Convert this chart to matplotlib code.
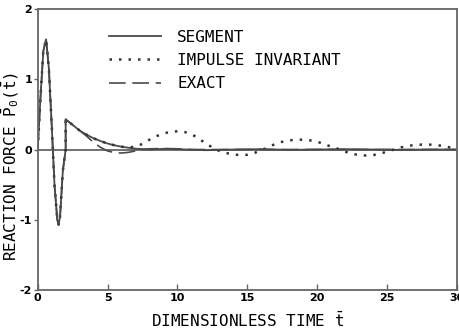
import numpy as np
import matplotlib
matplotlib.use("Agg")
import matplotlib.pyplot as plt

plt.rcParams['font.family'] = ['DejaVu Sans Mono', 'DejaVu Sans']
plt.rcParams['mathtext.fontset'] = 'custom'
plt.rcParams['mathtext.rm'] = 'DejaVu Sans Mono'
plt.rcParams['mathtext.it'] = 'DejaVu Sans Mono'

# data
t_seg = [0, 0.2, 0.4, 0.6, 0.8, 1.0, 1.2, 1.4, 1.5, 1.6, 1.8, 2.0, 2.0, 2.5, 3.0,
         3.5, 4.0, 4.5, 5.0, 5.5, 6.0, 6.5, 7.0, 8, 9, 10, 12, 14, 16, 18, 20,
         22, 24, 26, 28, 30]
p_seg = [0, 0.75, 1.40, 1.57, 1.15, 0.35, -0.50, -1.00, -1.07, -0.95, -0.30, 0.0,
         0.43, 0.35, 0.27, 0.21, 0.16, 0.12, 0.085, 0.06, 0.04, 0.025, 0.012,
         0.0, 0.01, 0.005, -0.01, 0.0, 0.005, -0.005, 0.0, 0.005, 0.0, -0.005,
         0.0, 0.0]

t_exact = [0, 0.2, 0.4, 0.6, 0.8, 1.0, 1.2, 1.4, 1.5, 1.6, 1.8, 2.0, 2.0, 2.5, 3.0,
           3.5, 4.0, 4.5, 5.0, 5.5, 6.0, 6.5, 7.0, 7.5, 8, 9, 10, 11, 12, 15, 20,
           25, 30]
p_exact = [0, 0.75, 1.40, 1.57, 1.15, 0.35, -0.50, -1.00, -1.07, -0.95, -0.30, 0.0,
           0.43, 0.35, 0.27, 0.19, 0.10, 0.03, -0.02, -0.045, -0.05, -0.04, -0.02,
           0.0, 0.01, 0.015, 0.01, 0.0, 0.0, 0.0, 0.0, 0.0, 0.0]

t_imp = [0, 0.2, 0.4, 0.6, 0.8, 1.0, 1.2, 1.4, 1.5, 1.6, 1.8, 2.0, 2.0, 2.5, 3.0,
         3.5, 4.0, 4.5, 5.0, 5.5, 6.0, 6.5, 7.0, 7.5, 8, 8.5, 9, 9.5, 10, 10.5,
         11, 11.5, 12, 12.5, 13, 13.5, 14, 14.5, 15, 15.5, 16, 16.5, 17, 17.5,
         18, 18.5, 19, 19.5, 20, 20.5, 21, 21.5, 22, 22.5, 23, 23.5, 24, 24.5,
         25, 25.5, 26, 26.5, 27, 27.5, 28, 28.5, 29, 29.5, 30]
p_imp = [0, 0.75, 1.40, 1.57, 1.15, 0.35, -0.50, -1.00, -1.07, -0.95, -0.30, 0.0,
         0.43, 0.35, 0.27, 0.21, 0.16, 0.12, 0.085, 0.06, 0.04, 0.03, 0.04, 0.08,
         0.14, 0.19, 0.23, 0.25, 0.26, 0.25, 0.22, 0.16, 0.09, 0.03, -0.02,
         -0.05, -0.07, -0.08, -0.075, -0.05, -0.01, 0.03, 0.08, 0.11, 0.13, 0.14,
         0.14, 0.13, 0.11, 0.08, 0.04, 0.01, -0.03, -0.06, -0.08, -0.085, -0.08,
         -0.06, -0.03, 0.0, 0.03, 0.05, 0.065, 0.07, 0.07, 0.065, 0.05, 0.03, 0.0]

labels = ["SEGMENT", "IMPULSE INVARIANT", "EXACT"]
xticks = [0, 5, 10, 15, 20, 25, 30]
yticks = [-2, -1, 0, 1, 2]

grey = '#4a4a4a'

fig = plt.figure(figsize=(4.6, 3.33), dpi=100)
ax = fig.add_axes([0.082, 0.129, 0.911, 0.844])

ax.axhline(0, color='#666666', lw=1.3, zorder=1)
ax.plot(t_seg, p_seg, color=grey, lw=1.3, label=labels[0])
ax.plot(t_imp, p_imp, color='#333333', lw=1.8, ls=(0, (1, 2.8)), label=labels[1])
ax.plot(t_exact, p_exact, color=grey, lw=1.2, ls=(0, (10, 4)), label=labels[2])

ax.set_xlim(0, 30)
ax.set_ylim(-2, 2)
ax.set_xticks(xticks)
ax.set_yticks(yticks)
ax.set_xticklabels([str(v) for v in xticks], fontweight='bold', fontsize=8,
                   family='DejaVu Sans')
ax.set_yticklabels([str(v) for v in yticks], fontweight='bold', fontsize=8,
                   family='DejaVu Sans')
ax.tick_params(axis='x', direction='in', length=4, width=1, color='#666666', pad=2)
ax.tick_params(axis='y', direction='out', length=3, width=1, color='#666666', pad=1)
for s in ax.spines.values():
    s.set_color('#666666')
    s.set_linewidth(1.3)

ax.set_xlabel(r"DIMENSIONLESS TIME $\bar{t}$", fontsize=11.5, labelpad=6)
ax.set_ylabel(r"REACTION FORCE $\bar{P}_0(\bar{t})$", fontsize=11.5)
ax.yaxis.set_label_coords(-0.04, 0.44)

ax.legend(loc='upper left', bbox_to_anchor=(0.135, 0.978), frameon=False,
          fontsize=11.5, handlelength=3.3, handletextpad=1.0, labelspacing=0.52)

fig.savefig("out.png", dpi=100)
